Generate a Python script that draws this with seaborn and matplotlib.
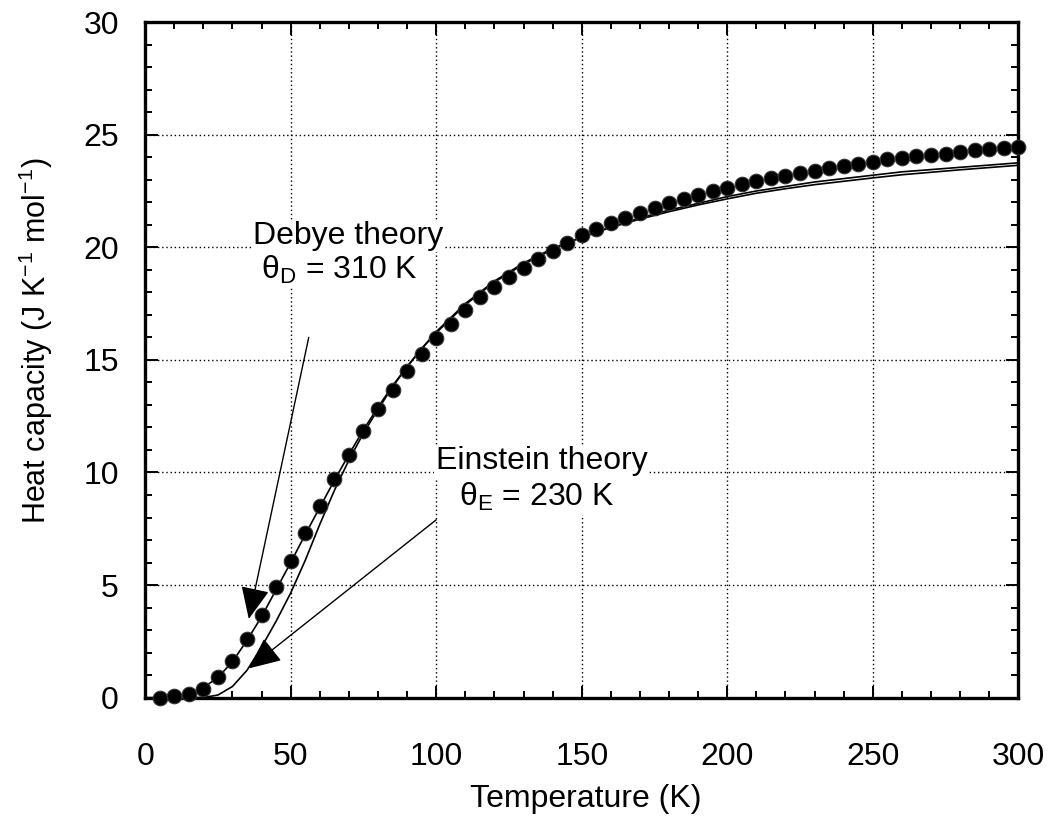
import numpy as np
import pandas as pd
import matplotlib
matplotlib.use("Agg")
import matplotlib.pyplot as plt
from matplotlib.ticker import MultipleLocator
import seaborn as sns

# measured heat capacity (dots), every 5 K
temp_meas = [5, 10, 15, 20, 25, 30, 35, 40, 45, 50, 55, 60, 65, 70, 75, 80, 85, 90, 95, 100,
             105, 110, 115, 120, 125, 130, 135, 140, 145, 150, 155, 160, 165, 170, 175, 180, 185, 190, 195, 200,
             205, 210, 215, 220, 225, 230, 235, 240, 245, 250, 255, 260, 265, 270, 275, 280, 285, 290, 295, 300]
cp_meas = [0.0, 0.06, 0.16, 0.4, 0.9, 1.64, 2.6, 3.69, 4.9, 6.08, 7.3, 8.52, 9.71, 10.79, 11.86, 12.8, 13.68, 14.5, 15.27, 15.98,
           16.6, 17.2, 17.78, 18.22, 18.66, 19.1, 19.49, 19.85, 20.19, 20.54, 20.81, 21.06, 21.32, 21.54, 21.76, 21.96, 22.16, 22.31, 22.5, 22.65,
           22.79, 22.94, 23.09, 23.16, 23.28, 23.38, 23.5, 23.6, 23.68, 23.79, 23.9, 23.97, 24.04, 24.09, 24.16, 24.24, 24.31, 24.37, 24.41, 24.46]

# theory curves
temp_curve = [0, 5, 10, 15, 20, 25, 30, 35, 40, 45, 50, 55, 60, 65, 70, 75, 80, 85, 90, 95, 100,
              110, 120, 130, 140, 150, 160, 170, 180, 190, 200, 210, 220, 230, 240, 250, 260, 270, 280, 290, 300]
cp_debye = [0.0, 0.0, 0.05, 0.2, 0.45, 0.9, 1.6, 2.55, 3.6, 4.8, 6.0, 7.25, 8.45, 9.65, 10.8, 11.9, 12.9, 13.85, 14.7, 15.5, 16.2,
            17.45, 18.45, 19.25, 19.9, 20.45, 20.9, 21.3, 21.65, 21.95, 22.25, 22.5, 22.7, 22.9, 23.05, 23.2, 23.35, 23.45, 23.55, 23.65, 23.75]
cp_einstein = [0.0, 0.0, 0.0, 0.0, 0.01, 0.12, 0.5, 1.22, 2.25, 3.4, 4.65, 6.1, 7.7, 9.2, 10.55, 11.75, 12.8, 13.8, 14.7, 15.5, 16.25,
               17.5, 18.5, 19.3, 19.95, 20.45, 20.88, 21.25, 21.58, 21.88, 22.15, 22.4, 22.6, 22.78, 22.93, 23.08, 23.22, 23.33, 23.44, 23.54, 23.64]

sns.set_style("ticks")
plt.rcParams['font.family'] = ['Liberation Sans', 'DejaVu Sans']
plt.rcParams['mathtext.fontset'] = 'custom'
plt.rcParams['mathtext.rm'] = 'Liberation Sans'
plt.rcParams['mathtext.it'] = 'Liberation Sans:italic'
plt.rcParams['text.color'] = 'black'
plt.rcParams['axes.labelcolor'] = 'black'

fig = plt.figure(figsize=(10.52, 8.17), dpi=100)
ax = fig.add_axes([0.138, 0.146, 0.830, 0.827])

df_meas = pd.DataFrame({'T': temp_meas, 'C': cp_meas})
df_curve = pd.DataFrame({'T': temp_curve, 'debye': cp_debye, 'einstein': cp_einstein})

sns.lineplot(data=df_curve, x='T', y='debye', color='black', lw=1.2, ax=ax, zorder=3)
sns.lineplot(data=df_curve, x='T', y='einstein', color='black', lw=1.2, ax=ax, zorder=3)
sns.scatterplot(data=df_meas, x='T', y='C', color='black', s=110, edgecolor='#333333',
                linewidth=0.8, ax=ax, zorder=4, clip_on=False)

ax.set_xlim(0, 300)
ax.set_ylim(0, 30)
ax.xaxis.set_major_locator(MultipleLocator(50))
ax.xaxis.set_minor_locator(MultipleLocator(10))
ax.yaxis.set_major_locator(MultipleLocator(5))
ax.yaxis.set_minor_locator(MultipleLocator(1))
ax.grid(True, which='major', color='black', linestyle=(0, (1, 2)), lw=1.0)
ax.tick_params(which='both', direction='in', top=True, right=True, width=1.4,
               colors='black', labelcolor='black')
ax.tick_params(which='major', length=9)
ax.tick_params(which='minor', length=5)
ax.tick_params(axis='x', which='major', labelsize=23, pad=32)
ax.tick_params(axis='y', which='major', labelsize=23, pad=19)
for sp in ax.spines.values():
    sp.set_linewidth(2.4)
    sp.set_color('black')

ax.set_xlabel('Temperature (K)', fontsize=23)
ax.set_ylabel('Heat capacity (J K$^{-1}$ mol$^{-1}$)', fontsize=22)
ax.xaxis.set_label_coords(0.505, -0.128)
ax.yaxis.set_label_coords(-0.103, 0.528)

box = dict(fc='white', ec='none', pad=1)
ax.text(69.7, 20.5, 'Debye theory', fontsize=23, ha='center', va='center', bbox=box, zorder=5)
ax.text(66.6, 19.0, 'θ$_{\\mathrm{D}}$ = 310 K', fontsize=23, ha='center', va='center', bbox=box, zorder=5)
ax.text(136.2, 10.5, 'Einstein theory', fontsize=23, ha='center', va='center', bbox=box, zorder=5)
ax.text(134.5, 8.9, 'θ$_{\\mathrm{E}}$ = 230 K', fontsize=23, ha='center', va='center', bbox=box, zorder=5)

arrow = dict(arrowstyle='-|>,head_length=1.0,head_width=0.45', mutation_scale=20,
             color='black', lw=1.0, shrinkA=0, shrinkB=0)
ax.annotate('', xy=(35.6, 3.5), xytext=(56.2, 16.0), arrowprops=arrow, zorder=6)
ax.annotate('', xy=(35.6, 1.3), xytext=(100, 7.9), arrowprops=arrow, zorder=6)

fig.savefig('out.png', dpi=100)
